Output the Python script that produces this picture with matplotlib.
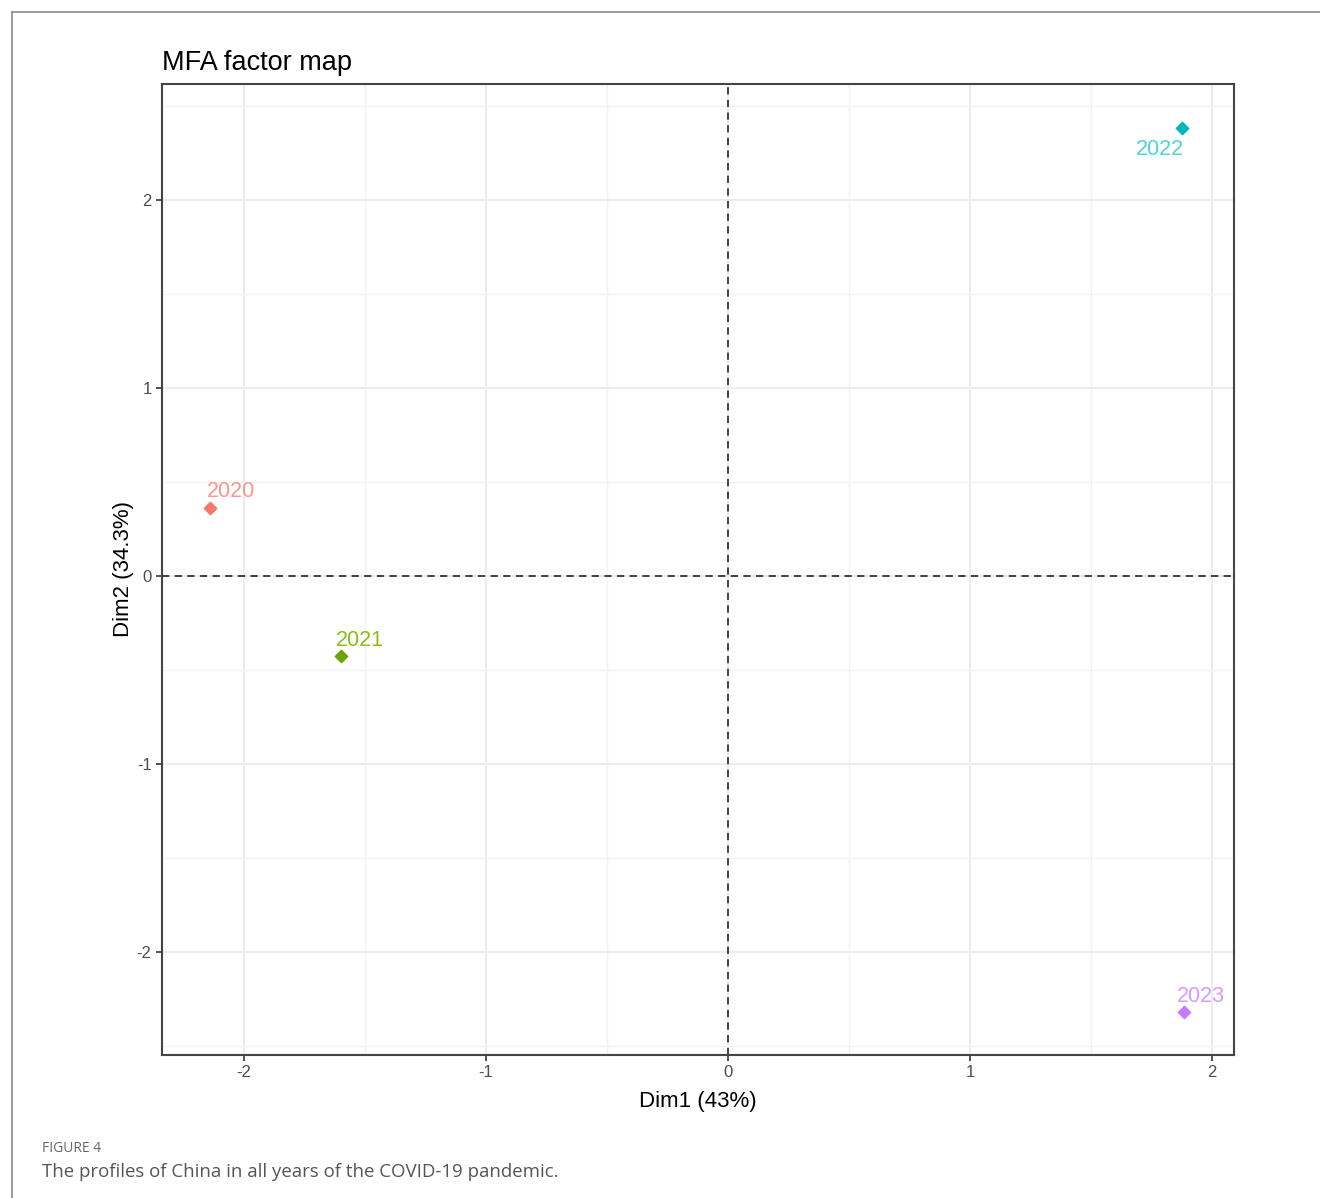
import matplotlib.pyplot as plt
from matplotlib.ticker import MultipleLocator
from matplotlib.lines import Line2D

plt.rcParams['axes.unicode_minus'] = False

# --- Coordenadas dos anos no mapa fatorial
anos = ['2020', '2021', '2022', '2023']
dim1 = [-2.14, -1.60, 1.875, 1.885]
dim2 = [0.36, -0.425, 2.385, -2.32]
cores_ponto = ['#F8766D', '#6FA300', '#00B6BD', '#C77CFF']
cores_texto = ['#FA9590', '#8DBB1A', '#4DD3D7', '#D59BFF']
# deslocamento dos rótulos em pixels (estilo ggrepel)
offsets = [(21, 17), (19, 15), (-22, -22), (17, 16)]

fig = plt.figure(figsize=(13.2, 11.98), dpi=100)

# moldura externa da figura
fig.add_artist(Line2D([0.009, 0.009], [0.0, 0.99], color='#8a8a8a', lw=1.2))
fig.add_artist(Line2D([0.009, 1.0], [0.99, 0.99], color='#8a8a8a', lw=1.2))

ax = fig.add_axes([0.1227, 0.1194, 0.8121, 0.8105])
ax.set_xlim(-2.339, 2.091)
ax.set_ylim(-2.548, 2.617)

ax.xaxis.set_major_locator(MultipleLocator(1))
ax.yaxis.set_major_locator(MultipleLocator(1))
ax.xaxis.set_minor_locator(MultipleLocator(0.5))
ax.yaxis.set_minor_locator(MultipleLocator(0.5))
ax.grid(which='major', color='#EBEBEB', lw=1.3)
ax.grid(which='minor', color='#F2F2F2', lw=1.0)
ax.set_axisbelow(True)

ax.axhline(0, color='#333333', lw=1.3, ls=(0, (4, 3)))
ax.axvline(0, color='#333333', lw=1.3, ls=(0, (4, 3)))

for nome, x, y, cp, ct, off in zip(anos, dim1, dim2, cores_ponto, cores_texto, offsets):
    ax.scatter(x, y, marker='D', s=40, color=cp, zorder=3)
    ax.annotate(nome, (x, y), xytext=off, textcoords='offset pixels',
                ha='center', va='center', color=ct, fontsize=15.5,
                family='Liberation Sans')

for s in ax.spines.values():
    s.set_color('#444444')
    s.set_linewidth(1.5)

ax.tick_params(which='minor', length=0)
ax.tick_params(which='major', length=4, width=1.2, color='#333333',
               labelsize=12, labelcolor='#4D4D4D')
for lab in ax.get_xticklabels() + ax.get_yticklabels():
    lab.set_family('Liberation Sans')

ax.set_xlabel('Dim1 (43%)', fontsize=16, family='Liberation Sans', labelpad=8)
ax.set_ylabel('Dim2 (34.3%)', fontsize=16, family='Liberation Sans', labelpad=2)
ax.set_title('MFA factor map', fontsize=19.5, family='Liberation Sans',
             loc='left', pad=10)

# legenda da figura
fig.text(0.032, 0.0385, 'FIGURE 4', fontsize=10, color='#666666', family='Open Sans')
fig.text(0.032, 0.0175, 'The profiles of China in all years of the COVID-19 pandemic.',
         fontsize=13.4, color='#555555', family='Open Sans')

fig.savefig('out.png', dpi=100)
